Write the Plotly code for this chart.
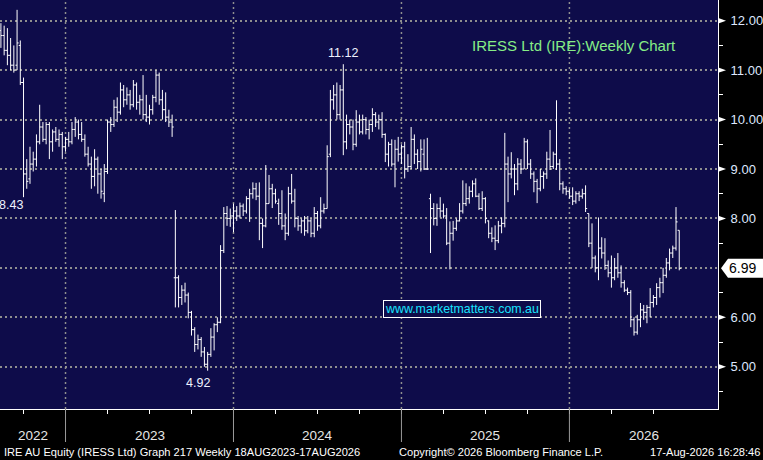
import pandas as pd
import numpy as np
import plotly.graph_objects as go

# ---------------- data (weekly OHLC) ----------------
start_date = "2022-08-19"
opens = [11.8, 11.7, 11.4, 11.3, 11.1, 11.1, 11.5, 10.75, 8.9, 8.8,
         9.1, 9.2, 9.55, 9.85, 9.6, 9.9, 9.55, 9.75, 9.6, 9.7,
         9.45, 9.6, 9.55, 9.8, 9.95, 9.7, 9.6, 9.3, 9.1, 8.85,
         9.2, 8.9, 8.5, 8.95, 9.95, 9.9, 10.25, 10.15, 10.6, 10.4,
         10.5, 10.3, 10.7, 10.35, 10.4, 10.1, 10.05, 10.2, 10.45, 10.9,
         10.4, 10.2, 10.05, 9.95, 6.8, 6.8, 6.4, 6.55, 6.45, 6.1,
         5.75, 5.45, 5.55, 5.3, 5.05, 5.25, 5.6, 5.85, 5.9, 7.35,
         8.1, 8.0, 8.05, 8.15, 8.05, 8.25, 8.15, 8.4, 8.5, 8.6,
         8.45, 7.9, 7.85, 8.3, 8.6, 8.5, 8.3, 8.1, 7.85, 7.7,
         8.5, 8.35, 8.0, 7.85, 7.95, 7.75, 7.95, 7.7, 8.1, 7.85,
         8.15, 8.2, 9.3, 10.4, 10.5, 10.1, 10.6, 9.55, 9.9, 9.85,
         9.5, 9.95, 9.75, 10.0, 9.8, 9.9, 10.1, 9.95, 10.0, 9.7,
         9.3, 9.5, 9.1, 9.4, 9.3, 9.45, 9.0, 9.05, 9.6, 9.3,
         9.15, 9.3, 9.0, 8.4, 8.2, 8.0, 8.2, 8.15, 8.05, 7.5,
         7.7, 7.8, 7.95, 8.15, 8.3, 8.4, 8.55, 8.7, 8.45, 8.2,
         8.4, 7.95, 7.7, 7.6, 7.55, 7.85, 7.9, 9.1, 8.9, 9.0,
         8.7, 9.1, 9.0, 9.55, 9.1, 8.9, 8.75, 8.6, 8.85, 8.9,
         9.2, 9.05, 9.3, 9.1, 8.7, 8.6, 8.55, 8.45, 8.35, 8.5,
         8.45, 8.5, 8.1, 7.5, 7.2, 7.0, 7.4, 7.3, 7.05, 6.9,
         6.8, 7.0, 6.9, 6.7, 6.55, 6.5, 5.95, 5.7, 5.95, 6.15,
         6.1, 6.2, 6.3, 6.4, 6.6, 6.7, 6.85, 7.1, 7.3, 7.4,
         7.76]
highs = [11.95, 11.9, 11.85, 11.65, 11.5, 12.22, 11.6, 10.85, 9.2, 9.45,
         9.35, 9.7, 10.3, 9.95, 9.95, 9.95, 9.8, 9.85, 9.8, 9.75,
         9.65, 9.75, 9.95, 10.05, 10.0, 9.95, 9.7, 9.45, 9.25, 9.4,
         9.25, 9.0, 9.1, 10.0, 10.05, 10.4, 10.45, 10.75, 10.7, 10.65,
         10.6, 10.8, 10.75, 10.5, 10.9, 10.5, 10.3, 10.5, 11.0, 10.95,
         10.6, 10.55, 10.2, 10.1, 8.17, 6.85, 6.65, 6.7, 6.5, 6.13,
         5.8, 5.65, 5.6, 5.4, 5.3, 5.78, 5.88, 6.0, 7.46, 8.23,
         8.25, 8.2, 8.3, 8.25, 8.32, 8.3, 8.45, 8.6, 8.73, 8.72,
         8.73, 8.0, 9.08, 8.88, 8.7, 8.6, 8.4, 8.57, 8.1, 8.64,
         8.9, 8.6, 8.05, 8.0, 8.05, 8.05, 8.0, 8.23, 8.15, 8.43,
         8.3, 9.48, 10.6, 10.7, 10.75, 10.7, 11.12, 10.1, 10.0, 10.0,
         10.19, 10.1, 10.1, 10.05, 10.0, 10.23, 10.15, 10.1, 10.15, 9.72,
         9.55, 9.6, 9.59, 9.65, 9.5, 9.55, 9.3, 9.85, 9.7, 9.4,
         9.6, 9.6, 9.63, 8.5, 8.31, 8.3, 8.43, 8.3, 8.21, 7.94,
         7.95, 8.0, 8.31, 8.77, 8.71, 8.65, 8.77, 8.81, 8.51, 8.55,
         8.43, 7.96, 7.82, 7.86, 7.95, 8.02, 9.73, 9.25, 9.34, 9.1,
         9.22, 9.2, 9.63, 9.6, 9.2, 8.95, 8.8, 9.0, 8.95, 9.35,
         9.79, 9.35, 10.39, 9.2, 8.75, 8.65, 8.6, 8.63, 8.55, 8.55,
         8.6, 8.67, 8.1, 7.9, 7.25, 8.02, 7.62, 7.6, 7.15, 7.25,
         7.2, 7.3, 7.05, 6.75, 6.6, 6.55, 6.0, 6.05, 6.29, 6.25,
         6.25, 6.59, 6.45, 6.69, 6.8, 7.0, 7.2, 7.39, 7.45, 8.23,
         7.76]
lows = [11.45, 11.3, 11.1, 11.0, 10.95, 11.0, 10.7, 8.43, 8.6, 8.7,
        8.95, 9.05, 9.5, 9.55, 9.5, 9.2, 9.35, 9.55, 9.45, 9.2,
        9.35, 9.45, 9.5, 9.65, 9.6, 9.55, 9.25, 9.05, 8.6, 8.65,
        8.5, 8.4, 8.33, 8.9, 9.75, 9.85, 9.95, 10.1, 10.25, 10.3,
        10.2, 10.25, 10.2, 10.1, 10.0, 9.95, 9.9, 10.1, 10.35, 10.3,
        10.0, 9.95, 9.85, 9.65, 6.2, 6.2, 6.25, 6.3, 5.98, 5.63,
        5.3, 5.35, 5.2, 5.0, 4.92, 5.2, 5.33, 5.7, 5.88, 7.3,
        7.85, 7.83, 7.72, 7.95, 8.0, 8.05, 8.1, 7.93, 8.4, 8.37,
        7.56, 7.4, 7.82, 8.3, 8.21, 8.3, 7.87, 7.77, 7.56, 7.65,
        8.3, 7.82, 7.75, 7.7, 7.65, 7.7, 7.62, 7.62, 7.75, 7.8,
        8.1, 8.2, 9.24, 10.2, 10.0, 10.0, 9.28, 9.4, 9.7, 9.38,
        9.45, 9.7, 9.7, 9.7, 9.6, 9.75, 9.85, 9.8, 9.63, 9.14,
        9.05, 9.05, 8.63, 9.15, 9.1, 8.81, 8.94, 9.0, 9.1, 9.0,
        8.95, 8.98, 8.98, 7.3, 7.86, 7.85, 8.02, 8.0, 7.46, 6.97,
        7.55, 7.75, 7.94, 8.1, 8.25, 8.3, 8.43, 8.43, 8.17, 8.15,
        7.9, 7.6, 7.52, 7.36, 7.5, 7.7, 7.82, 8.33, 8.81, 8.47,
        8.57, 8.9, 9.0, 9.0, 8.8, 8.53, 8.31, 8.55, 8.6, 8.8,
        8.98, 9.0, 8.98, 8.57, 8.5, 8.47, 8.4, 8.27, 8.3, 8.35,
        8.4, 8.13, 7.42, 7.0, 6.91, 6.75, 7.19, 6.96, 6.81, 6.6,
        6.75, 6.8, 6.6, 6.51, 6.45, 5.8, 5.63, 5.65, 5.8, 5.95,
        5.88, 6.0, 6.2, 6.25, 6.4, 6.49, 6.8, 6.95, 7.2, 7.35,
        6.95]
closes = [11.7, 11.4, 11.3, 11.1, 11.0, 11.55, 10.75, 8.9, 8.75, 9.1,
          9.2, 9.55, 9.85, 9.6, 9.9, 9.55, 9.75, 9.6, 9.7, 9.45,
          9.6, 9.55, 9.8, 9.95, 9.7, 9.6, 9.3, 9.1, 8.85, 9.2,
          8.9, 8.55, 8.95, 9.95, 9.9, 10.25, 10.15, 10.6, 10.4, 10.5,
          10.3, 10.7, 10.35, 10.4, 10.1, 10.05, 10.2, 10.45, 10.9, 10.4,
          10.2, 10.05, 9.95, 9.85, 6.8, 6.4, 6.55, 6.45, 6.1, 5.75,
          5.45, 5.55, 5.3, 5.05, 5.25, 5.6, 5.85, 5.9, 7.35, 8.1,
          8.0, 8.05, 8.15, 8.05, 8.25, 8.15, 8.4, 8.5, 8.6, 8.45,
          7.9, 7.85, 8.3, 8.6, 8.5, 8.35, 8.1, 7.85, 7.7, 8.5,
          8.35, 8.0, 7.85, 7.95, 7.75, 7.95, 7.7, 8.1, 7.85, 8.15,
          8.2, 9.25, 10.4, 10.5, 10.1, 10.6, 9.55, 9.9, 9.85, 9.5,
          9.95, 9.75, 10.0, 9.8, 9.9, 10.1, 9.95, 10.0, 9.7, 9.3,
          9.5, 9.1, 9.4, 9.3, 9.45, 9.0, 9.05, 9.6, 9.3, 9.15,
          9.4, 9.0, 9.0, 8.2, 8.0, 8.2, 8.15, 8.05, 7.5, 7.7,
          7.8, 7.95, 8.15, 8.3, 8.4, 8.55, 8.7, 8.45, 8.2, 8.4,
          8.0, 7.7, 7.6, 7.55, 7.85, 7.9, 9.1, 8.9, 9.0, 8.7,
          9.1, 9.0, 9.55, 9.1, 8.9, 8.75, 8.6, 8.85, 8.9, 9.2,
          9.05, 9.3, 9.1, 8.7, 8.6, 8.55, 8.45, 8.35, 8.5, 8.45,
          8.5, 8.2, 7.5, 7.2, 7.0, 7.4, 7.3, 7.05, 6.9, 6.8,
          7.0, 6.9, 6.7, 6.55, 6.5, 5.95, 5.7, 5.95, 6.15, 6.1,
          6.2, 6.3, 6.4, 6.6, 6.7, 6.85, 7.1, 7.3, 7.4, 7.93,
          6.99]

price_ticks = [5, 6, 7, 8, 9, 10, 11, 12]
last_price = 6.99
high_label = 11.12
low_label = 4.92
early_low_label = 8.43
title_text = "IRESS Ltd (IRE):Weekly Chart"
watermark = "www.marketmatters.com.au"
footer_left = "IRE AU Equity (IRESS Ltd) Graph 217 Weekly 18AUG2023-17AUG2026"
footer_mid = "Copyright\u00a9 2026 Bloomberg Finance L.P."
footer_right = "17-Aug-2026 16:28:46"

# ---------------- figure ----------------
dates = pd.date_range(start_date, periods=len(closes), freq="7D")
NAVY = "#0e0c4a"
GRID = "#8f8f8f"
FONT = "Liberation Sans, Arial, sans-serif"

x_range = [pd.Timestamp("2022-08-17"), pd.Timestamp("2026-11-20")]
y_range = [4.145, 12.419]

fig = go.Figure(go.Ohlc(
    x=dates, open=opens, high=highs, low=lows, close=closes,
    increasing=dict(line=dict(color="white", width=1)),
    decreasing=dict(line=dict(color="white", width=1)),
    tickwidth=0.5, hoverinfo="skip", showlegend=False,
))

# first bar of each year / quarter
years = dates.year
months = dates.month
year_starts = [dates[i] for i in range(1, len(dates)) if years[i] != years[i - 1]]
quarter_starts = [dates[i] for i in range(1, len(dates))
                  if months[i] != months[i - 1] and months[i] in (1, 4, 7, 10)]

labels_y = []
for v in price_ticks:
    labels_y.append("" if abs(v - round(last_price)) < 1e-9 else f"{v:.2f}")

fig.update_layout(
    width=763, height=460,
    margin=dict(l=0, r=45, t=0, b=51, autoexpand=False),
    paper_bgcolor="black", plot_bgcolor=NAVY,
    font=dict(family=FONT, color="white"),
    showlegend=False,
    xaxis=dict(
        type="date", range=x_range, rangeslider=dict(visible=False),
        showgrid=False, zeroline=False,
        showline=True, linecolor="white", linewidth=1,
        tickmode="array", tickvals=quarter_starts, ticktext=[""] * len(quarter_starts),
        ticks="outside", ticklen=4, tickcolor="white", tickwidth=1,
    ),
    yaxis=dict(
        range=y_range, side="right", zeroline=False,
        showline=True, linecolor="white", linewidth=1,
        tickmode="array", tickvals=price_ticks, ticktext=labels_y,
        ticks="", ticklabelstandoff=9,
        tickfont=dict(size=13, color="#dfe8ff", family=FONT),
        showgrid=True, gridcolor=GRID, gridwidth=1.5, griddash="2px,3px",
        minor=dict(tickmode="linear", tick0=4.5, dtick=1, ticks="outside",
                   ticklen=4, tickcolor="white", showgrid=False),
    ),
)

shapes = []
# year separators: dotted inside plot, solid grey below
for d in year_starts:
    shapes.append(dict(type="line", xref="x", yref="paper", x0=d, x1=d, y0=0, y1=1,
                       line=dict(color=GRID, width=1.5, dash="2px,3px"), layer="below"))
    shapes.append(dict(type="line", xref="x", yref="paper", x0=d, x1=d, y0=0, y1=-33 / 409,
                       line=dict(color="#9a9a9a", width=1)))
# triangles at price ticks
px = 1.0 / 718.0
for v in price_ticks:
    if abs(v - round(last_price)) < 1e-9:
        continue
    shapes.append(dict(type="path", xref="paper", yref="y",
                       path=f"M {1 + 1 * px},{v - 0.05} L {1 + 8 * px},{v} L {1 + 1 * px},{v + 0.05} Z",
                       fillcolor="white", line=dict(color="white", width=0)))
# last price tag
hh = 9.5 / 49.43
shapes.append(dict(type="path", xref="paper", yref="y",
                   path=(f"M {1 + 3 * px},{last_price} L {1 + 10 * px},{last_price + hh} "
                         f"L {1 + 46 * px},{last_price + hh} L {1 + 46 * px},{last_price - hh} "
                         f"L {1 + 10 * px},{last_price - hh} Z"),
                   fillcolor="white", line=dict(color="white", width=0)))
fig.update_layout(shapes=shapes)

LBL = dict(size=12.5, color="#eef2ff", family=FONT)
ann = []
ann.append(dict(xref="paper", yref="y", x=1 + 25 * px, y=last_price, text=f"{last_price:.2f}",
                showarrow=False, font=dict(size=14, color="black", family=FONT),
                xanchor="center", yanchor="middle"))
# price call-outs
ann.append(dict(x=dates[highs.index(high_label)], y=high_label, text=f"{high_label:.2f}",
                showarrow=False, xanchor="center", yanchor="bottom", yshift=2, font=LBL))
ann.append(dict(x=dates[lows.index(low_label)], y=low_label, text=f"{low_label:.2f}",
                showarrow=False, xanchor="center", yanchor="top", yshift=-3, xshift=-10, font=LBL))
ann.append(dict(x=dates[lows.index(early_low_label)], y=early_low_label, text=f"{early_low_label:.2f}",
                showarrow=False, yanchor="top", xanchor="right", xshift=1, yshift=1, font=LBL))
# title & watermark
ann.append(dict(xref="paper", yref="paper", x=574 / 718, y=1 - 45 / 409, text=title_text,
                xanchor="center", yanchor="middle",
                showarrow=False, font=dict(size=15, color="#86ee86", family=FONT)))
ann.append(dict(xref="paper", yref="paper", x=462 / 718, y=1 - 309 / 409, text=watermark,
                xanchor="center", yanchor="middle",
                showarrow=False, font=dict(size=12.4, color="#18e4ff", family=FONT),
                bordercolor="white", borderwidth=1, borderpad=1, bgcolor=NAVY))
# year labels centred in each visible year span
bounds = [x_range[0]] + year_starts + [x_range[1]]
for a, b in zip(bounds[:-1], bounds[1:]):
    mid = a + (b - a) / 2
    ann.append(dict(x=mid, xref="x", yref="paper", y=-26 / 409, text=str((a + pd.Timedelta(days=3)).year),
                    showarrow=False, xanchor="center", yanchor="middle",
                    font=dict(size=13.5, color="#e6e6e6", family=FONT)))
# footer
FOOT = dict(size=11.1, color="white", family=FONT)
ann.append(dict(xref="paper", yref="paper", x=2 / 718, xanchor="left", y=-42.5 / 409, yanchor="middle",
                text=footer_left, showarrow=False, font=FOOT))
ann.append(dict(xref="paper", yref="paper", x=397 / 718, xanchor="left", y=-42.5 / 409, yanchor="middle",
                text=footer_mid, showarrow=False, font=FOOT))
ann.append(dict(xref="paper", yref="paper", x=762 / 718, xanchor="right", y=-42.5 / 409, yanchor="middle",
                text=footer_right, showarrow=False, font=FOOT))
fig.update_layout(annotations=ann)

fig.write_html("out.html", config={"displayModeBar": False},
               post_script="document.body.style.margin='0';document.body.style.padding='0';")
